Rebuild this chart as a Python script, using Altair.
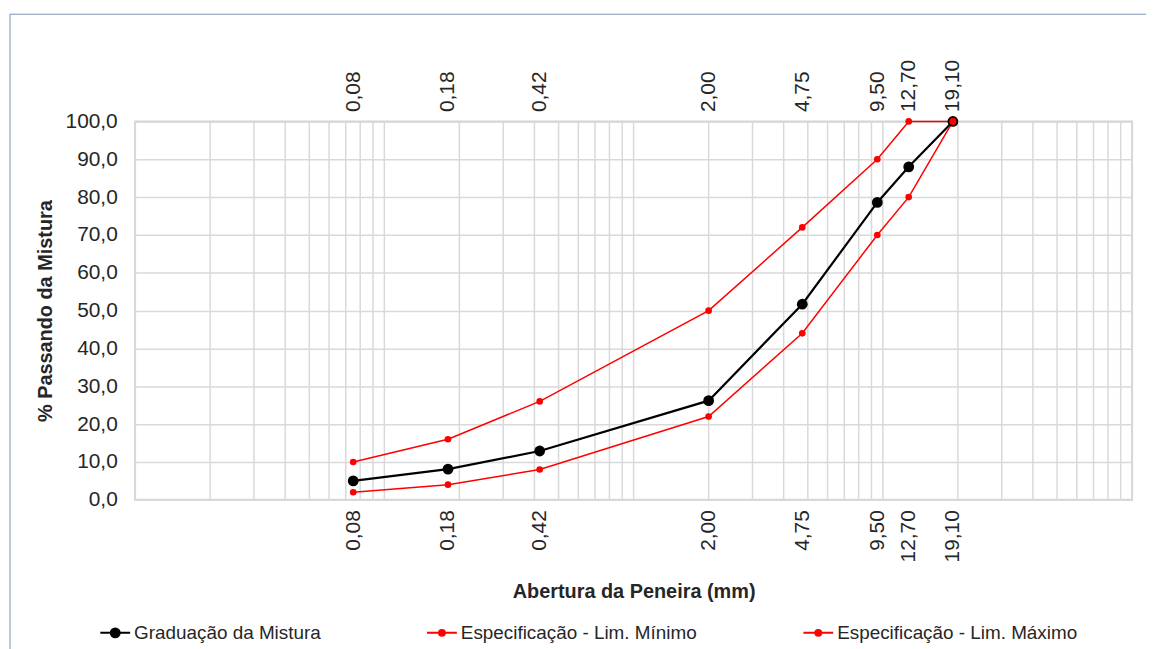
import altair as alt
import pandas as pd

# ---- data ----
sieve_mm = [0.075, 0.18, 0.42, 2.0, 4.75, 9.5, 12.7, 19.1]
sieve_labels = ["0,08", "0,18", "0,42", "2,00", "4,75", "9,50", "12,70", "19,10"]
mistura = [5.0, 8.1, 12.9, 26.2, 51.7, 78.6, 88.0, 100.0]
lim_min = [2.0, 4.0, 8.0, 22.0, 44.0, 70.0, 80.0, 100.0]
lim_max = [10.0, 16.0, 26.0, 50.0, 72.0, 90.0, 100.0, 100.0]
series_names = ["Graduação da Mistura", "Especificação - Lim. Mínimo", "Especificação - Lim. Máximo"]
series_kind = ["Mistura", "Limite", "Limite"]
series_colors = ["#000000", "#ff0000", "#ff0000"]
y_ticks = [0, 10, 20, 30, 40, 50, 60, 70, 80, 90, 100]
grid_x = [m * 10.0 ** e for e in range(-2, 2) for m in range(1, 10)] + [100.0]

rows = []
for name, kind, vals in zip(series_names, series_kind, [mistura, lim_min, lim_max]):
    for s, v in zip(sieve_mm, vals):
        rows.append({"abertura": s, "passando": v, "serie": name, "tipo": kind})
df = pd.DataFrame(rows)

FONT = "Liberation Sans"
GRID = "#d9d9d9"
TXT = "#262626"

x_scale = alt.Scale(type="log", domain=[0.01, 100], nice=False)
y_scale = alt.Scale(domain=[0, 100], nice=False)

label_expr_x = ("[" + ",".join("'%s'" % l for l in sieve_labels) + "][indexof(["
                + ",".join(repr(v) for v in sieve_mm) + "], datum.value)]")

common_x_axis = dict(values=sieve_mm, labelExpr=label_expr_x, labelAngle=270,
                     labelPadding=10, ticks=False, tickSize=0, domain=False, grid=False,
                     labelFontSize=21, labelFont=FONT, labelColor=TXT,
                     labelOverlap=False, labelFlush=False, labelBound=False)

bottom_axis = alt.Axis(orient="bottom", title="Abertura da Peneira (mm)",
                       titleFont=FONT, titleFontSize=20, titleFontWeight="bold",
                       titleColor=TXT, titlePadding=20, **common_x_axis)
top_axis = alt.Axis(orient="top", title=None, **common_x_axis)

y_axis = alt.Axis(values=y_ticks, labelExpr="replace(format(datum.value, '.1f'), '.', ',')",
                  grid=True, gridColor=GRID, gridWidth=1.5, ticks=False, tickSize=0,
                  domain=False, labelPadding=18, labelFontSize=21, labelFont=FONT,
                  labelColor=TXT, title="% Passando da Mistura", titleFont=FONT,
                  titleFontSize=20, titleFontWeight="bold", titleColor=TXT, titlePadding=10)

legend = alt.Legend(title=None, orient="none", legendX=-36, legendY=499, direction="horizontal",
                    symbolSize=900, symbolStrokeWidth=2, labelFontSize=19, labelFont=FONT,
                    labelColor=TXT, columnPadding=103, labelOffset=3, labelLimit=0, padding=0)

color_scale = alt.Scale(domain=series_names, range=series_colors)
color_enc = alt.Color("serie:N", scale=color_scale, legend=legend)

grid = alt.Chart(alt.Data(values=[{"g": g} for g in grid_x])).mark_rule(
    color=GRID, strokeWidth=1.5
).encode(x=alt.X("g:Q", scale=x_scale, axis=top_axis))

base = alt.Chart(df)

lines = base.mark_line().encode(
    x=alt.X("abertura:Q", scale=x_scale, axis=bottom_axis),
    y=alt.Y("passando:Q", scale=y_scale, axis=y_axis),
    color=color_enc,
    detail="serie:N",
    strokeWidth=alt.StrokeWidth("tipo:N", scale=alt.Scale(type="ordinal", domain=["Mistura", "Limite"], range=[2.2, 1.5]), legend=None),
)

points = base.mark_circle(opacity=1).encode(
    x=alt.X("abertura:Q", scale=x_scale, axis=None),
    y=alt.Y("passando:Q", scale=y_scale, axis=y_axis),
    color=color_enc,
    size=alt.Size("tipo:N", scale=alt.Scale(type="ordinal", domain=["Mistura", "Limite"], range=[118, 45]), legend=None),
)

# legend symbols: short line with a solid dot (concentric circles so the dot is solid even if only stroked)
def dot_path(radii):
    p = "M-1,0L1,0"
    for r in radii:
        p += "M%g,0A%g,%g,0,1,1,%g,0A%g,%g,0,1,1,%g,0Z" % (r, r, r, -r, r, r, r)
    return p

path_black = dot_path([0.3, 0.18, 0.06])
path_red = dot_path([0.2, 0.08])

leg = base.transform_filter("false").mark_point(filled=True, opacity=1).encode(
    fill=alt.Fill("serie:N", scale=alt.Scale(domain=series_names, range=series_colors), legend=legend),
    shape=alt.Shape("serie:N", scale=alt.Scale(domain=series_names, range=[path_black, path_red, path_red]), legend=legend),
)

frame_color = "#7a93b3"
frame_v = alt.Chart(alt.Data(values=[{}])).mark_rule(color=frame_color, strokeWidth=1).encode(
    x=alt.value(-126), y=alt.value(-108), y2=alt.value(540))
frame_h = alt.Chart(alt.Data(values=[{}])).mark_rule(color=frame_color, strokeWidth=1).encode(
    x=alt.value(-126), x2=alt.value(1030), y=alt.value(-108))

chart = alt.layer(grid, lines, points, leg, frame_v, frame_h).resolve_axis(
    x="independent"
).properties(
    width=1004, height=381,
    padding={"left": 128, "top": 112, "right": 14, "bottom": 148},
    autosize=alt.AutoSizeParams(type="none"),
).configure_view(stroke="#d4d4d4", strokeWidth=2)

chart.save("out.html", embed_options={"renderer": "svg", "actions": False})
